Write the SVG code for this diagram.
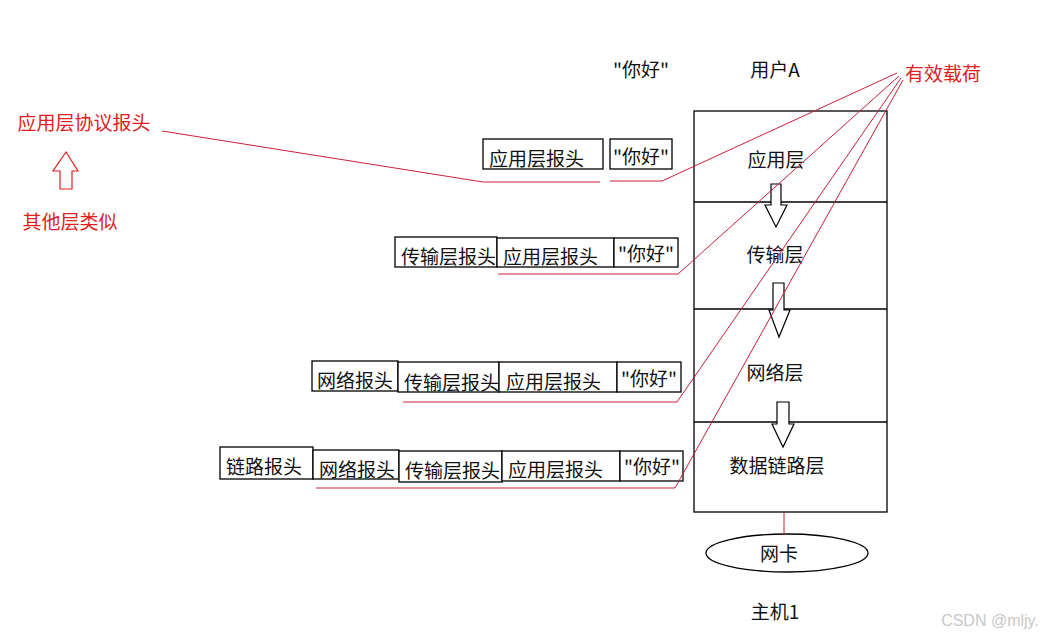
<svg xmlns="http://www.w3.org/2000/svg" width="1049" height="637" viewBox="0 0 1049 637">
<style>
text{font-family:"Microsoft YaHei","Noto Sans CJK SC","Noto Sans",sans-serif;font-size:19px;fill:#111;dominant-baseline:central}
.r{fill:#e02020}
.box{fill:#fff;stroke:#000;stroke-width:1.3}
.ln{fill:none;stroke:#000;stroke-width:1.3}
.rl{fill:none;stroke:#c8203a;stroke-width:1}
.harrow{fill:#fff;stroke:#000;stroke-width:1.2}
.wm{font-family:"Liberation Sans",Arial,sans-serif;font-size:16px;fill:#c8c8c8}
</style>
<rect width="1049" height="637" fill="#fff"/>
<g id="stack">
<rect class="box" x="694" y="111" width="193" height="401"/>
<line class="ln" x1="694" y1="202" x2="887" y2="202"/>
<line class="ln" x1="694" y1="309" x2="887" y2="309"/>
<line class="ln" x1="694" y1="422" x2="887" y2="422"/>
</g>
<g id="layer-app"><text x="776" y="158" text-anchor="middle">应用层</text></g>
<g id="layer-trans"><text x="775" y="253" text-anchor="middle">传输层</text></g>
<g id="layer-net"><text x="775" y="371" text-anchor="middle">网络层</text></g>
<g id="layer-link"><text x="777" y="464" text-anchor="middle">数据链路层</text></g>
<g id="down-arrows">
<polygon class="harrow" points="771,184 781,184 781,205 787,205 776,227 765,205 771,205"/>
<polygon class="harrow" points="773,283 784,283 784,310 790,310 779,337 769,310 773,310"/>
<polygon class="harrow" points="777,402 789,402 789,424 794,424 783,447 772,424 777,424"/>
</g>
<g id="nic">
<ellipse class="ln" cx="787" cy="553" rx="81" ry="19"/>
<text x="779" y="552" text-anchor="middle">网卡</text>
</g>
<g id="host"><text x="775" y="610" text-anchor="middle">主机1</text></g>
<g id="userA"><text x="775" y="68" text-anchor="middle">用户A</text></g>
<g id="hello-top"><text x="641" y="68" text-anchor="middle">"你好"</text></g>
<g id="payload"><text class="r" x="943" y="72" text-anchor="middle">有效载荷</text></g>
<g id="app-header-label"><text class="r" x="84" y="121" text-anchor="middle">应用层协议报头</text></g>
<g id="up-arrow"><polygon fill="#fff" stroke="#e02020" stroke-width="1.2" points="66,152 78,171 72,171 72,189 60,189 60,171 53,171"/></g>
<g id="other-label"><text class="r" x="70" y="220" text-anchor="middle">其他层类似</text></g>
<g id="row1">
<rect class="box" x="483" y="139" width="120" height="30"/>
<text x="489" y="157">应用层报头</text>
<rect class="box" x="610" y="139" width="62" height="30"/>
<text x="641" y="155" text-anchor="middle">"你好"</text>
</g>
<g id="row2">
<rect class="box" x="395" y="237" width="102" height="30"/>
<text x="401" y="255">传输层报头</text>
<rect class="box" x="497" y="238" width="117" height="29"/>
<text x="503" y="255">应用层报头</text>
<rect class="box" x="614" y="238" width="64" height="29"/>
<text x="646" y="252" text-anchor="middle">"你好"</text>
</g>
<g id="row3">
<rect class="box" x="312" y="361" width="86" height="30"/>
<text x="317" y="379">网络报头</text>
<rect class="box" x="398" y="362" width="101" height="30"/>
<text x="404" y="381">传输层报头</text>
<rect class="box" x="499" y="362" width="118" height="30"/>
<text x="506" y="380">应用层报头</text>
<rect class="box" x="617" y="362" width="64" height="30"/>
<text x="649" y="377" text-anchor="middle">"你好"</text>
</g>
<g id="row4">
<rect class="box" x="220" y="447" width="93" height="32"/>
<text x="226" y="465">链路报头</text>
<rect class="box" x="313" y="450" width="86" height="29"/>
<text x="319" y="468">网络报头</text>
<rect class="box" x="399" y="451" width="103" height="31"/>
<text x="405" y="469">传输层报头</text>
<rect class="box" x="502" y="451" width="118" height="30"/>
<text x="508" y="468">应用层报头</text>
<rect class="box" x="620" y="451" width="63" height="30"/>
<text x="652" y="465" text-anchor="middle">"你好"</text>
</g>
<g id="connectors">
<polyline class="rl" points="162,131 483,182 600,182"/>
<polyline class="rl" points="610,181 662,181 897,73"/>
<polyline class="rl" points="498,274 678,274 899,76"/>
<polyline class="rl" points="403,402 677,402 901,78"/>
<polyline class="rl" points="316,488 675,488 903,80"/>
<line class="rl" x1="784" y1="512" x2="784" y2="535"/>
</g>
<text class="wm" x="990" y="620" text-anchor="middle">CSDN @mljy.</text>
</svg>
